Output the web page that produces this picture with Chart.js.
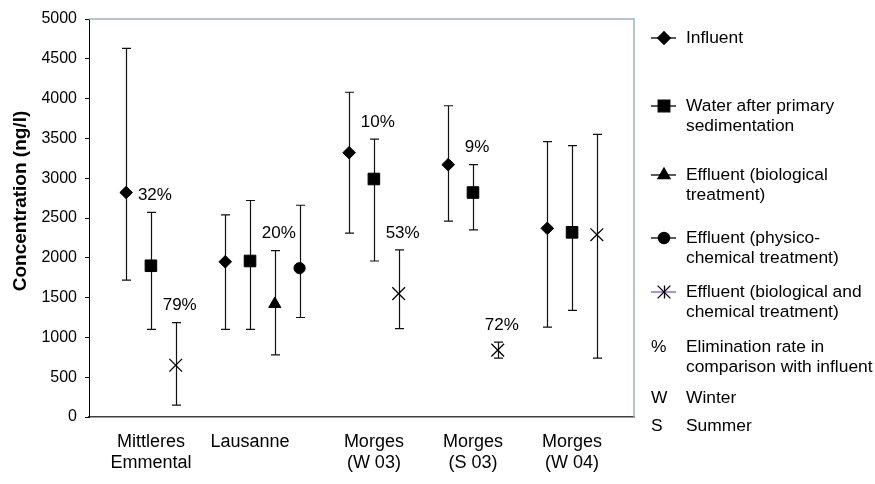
<!DOCTYPE html>
<html>
<head>
<meta charset="utf-8">
<title>Concentration</title>
<script src="https://cdn.jsdelivr.net/npm/chart.js@4.4.1/dist/chart.umd.min.js"></script>
<style>
  html, body { margin: 0; padding: 0; background: #fff; }
  #wrap { width: 875px; height: 484px; position: relative; }
</style>
</head>
<body>
<div id="wrap"><canvas id="concChart"></canvas></div>
<script>
var _ = null;
var FONT = "'Liberation Sans', Arial, sans-serif";

// x slots: the empty ones make the gaps between the plants
var categories = ['', '', ['Mittleres', 'Emmental'], '', '', '', 'Lausanne', '', '', '', '',
  ['Morges', '(W 03)'], '', '', '', ['Morges', '(S 03)'], '', '', '', ['Morges', '(W 04)'], '', ''];

// Influent
var influentMean = [_, 2820, _, _, _, 1950, _, _, _, _, 3320, _, _, _, 3170, _, _, _, 2370, _, _, _];
var influentLow  = [_, 1720, _, _, _, 1100, _, _, _, _, 2310, _, _, _, 2460, _, _, _, 1130, _, _, _];
var influentHigh = [_, 4630, _, _, _, 2540, _, _, _, _, 4080, _, _, _, 3910, _, _, _, 3460, _, _, _];

// Water after primary sedimentation
var waterMean = [_, _, 1900, _, _, _, 1960, _, _, _, _, 2990, _, _, _, 2820, _, _, _, 2320, _, _];
var waterLow  = [_, _, 1100, _, _, _, 1100, _, _, _, _, 1960, _, _, _, 2350, _, _, _, 1340, _, _];
var waterHigh = [_, _, 2570, _, _, _, 2720, _, _, _, _, 3490, _, _, _, 3170, _, _, _, 3410, _, _];
var waterRate = [_, _, '32%', _, _, _, _, _, _, _, _, '10%', _, _, _, '9%', _, _, _, _, _, _];

// Effluent (biological treatment)
var bioMean = [_, _, _, _, _, _, _, 1420, _, _, _, _, _, _, _, _, _, _, _, _, _, _];
var bioLow  = [_, _, _, _, _, _, _, 780, _, _, _, _, _, _, _, _, _, _, _, _, _, _];
var bioHigh = [_, _, _, _, _, _, _, 2090, _, _, _, _, _, _, _, _, _, _, _, _, _, _];
var bioRate = [_, _, _, _, _, _, _, '20%', _, _, _, _, _, _, _, _, _, _, _, _, _, _];

// Effluent (physico-chemical treatment)
var physMean = [_, _, _, _, _, _, _, _, 1870, _, _, _, _, _, _, _, _, _, _, _, _, _];
var physLow  = [_, _, _, _, _, _, _, _, 1250, _, _, _, _, _, _, _, _, _, _, _, _, _];
var physHigh = [_, _, _, _, _, _, _, _, 2660, _, _, _, _, _, _, _, _, _, _, _, _, _];

// Effluent (biological and chemical treatment)
var bioChemMean = [_, _, _, 650, _, _, _, _, _, _, _, _, 1550, _, _, _, 840, _, _, _, 2290, _];
var bioChemLow  = [_, _, _, 150, _, _, _, _, _, _, _, _, 1110, _, _, _, 740, _, _, _, 740, _];
var bioChemHigh = [_, _, _, 1185, _, _, _, _, _, _, _, _, 2100, _, _, _, 940, _, _, _, 3550, _];
var bioChemRate = [_, _, _, '79%', _, _, _, _, _, _, _, _, '53%', _, _, _, '72%', _, _, _, _, _];

var legendLabels = [
  ['Influent'],
  ['Water after primary', 'sedimentation'],
  ['Effluent (biological', 'treatment)'],
  ['Effluent (physico-', 'chemical treatment)'],
  ['Effluent (biological and', 'chemical treatment)']
];
var legendNotes = [
  ['%', 'Elimination rate in', 'comparison with influent'],
  ['W', 'Winter'],
  ['S', 'Summer']
];

function makeSeries(i, mean, low, high, rate, style, radius) {
  return {
    label: legendLabels[i].join(' '),
    data: mean,
    low: low,
    high: high,
    rate: rate,
    showLine: false,
    pointStyle: style,
    pointRadius: radius,
    pointBorderWidth: style === 'crossRot' ? 1.3 : 1,
    pointBackgroundColor: '#000',
    pointBorderColor: '#000'
  };
}

// vertical min-max bars with caps, drawn below the markers
var errorBars = {
  id: 'errorBars',
  beforeDatasetsDraw: function (chart) {
    var ctx = chart.ctx;
    var y = chart.scales.y;
    ctx.save();
    ctx.strokeStyle = '#111';
    ctx.lineWidth = 1.2;
    chart.data.datasets.forEach(function (ds, di) {
      var meta = chart.getDatasetMeta(di);
      ds.data.forEach(function (v, i) {
        if (v === null) return;
        var x = Math.round(meta.data[i].x) + 0.5;
        var top = y.getPixelForValue(ds.high[i]);
        var bot = y.getPixelForValue(ds.low[i]);
        ctx.beginPath();
        ctx.moveTo(x, top);
        ctx.lineTo(x, bot);
        ctx.moveTo(x - 4.5, top);
        ctx.lineTo(x + 4.5, top);
        ctx.moveTo(x - 4.5, bot);
        ctx.lineTo(x + 4.5, bot);
        ctx.stroke();
      });
    });
    ctx.restore();
  },
  afterDatasetsDraw: function (chart) {
    // elimination rates above the bars
    var ctx = chart.ctx;
    var y = chart.scales.y;
    ctx.save();
    ctx.fillStyle = '#000';
    ctx.font = '17px ' + FONT;
    ctx.textAlign = 'center';
    ctx.textBaseline = 'middle';
    chart.data.datasets.forEach(function (ds, di) {
      if (!ds.rate) return;
      var meta = chart.getDatasetMeta(di);
      ds.rate.forEach(function (r, i) {
        if (!r) return;
        ctx.fillText(r, meta.data[i].x + 4, y.getPixelForValue(ds.high[i]) - 17);
      });
    });
    ctx.restore();
  }
};

var frameAndLegend = {
  id: 'frameAndLegend',
  afterDraw: function (chart) {
    var ctx = chart.ctx;
    var a = chart.chartArea;
    ctx.save();

    // top and right edges of the plot area
    ctx.strokeStyle = '#9fb2b9';
    ctx.lineWidth = 1.5;
    ctx.beginPath();
    ctx.moveTo(a.left, a.top);
    ctx.lineTo(a.right, a.top);
    ctx.lineTo(a.right, a.bottom);
    ctx.stroke();

    // y axis title
    ctx.fillStyle = '#000';
    ctx.font = 'bold 19px ' + FONT;
    ctx.textAlign = 'center';
    ctx.textBaseline = 'middle';
    ctx.translate(21, 201);
    ctx.rotate(-Math.PI / 2);
    ctx.fillText('Concentration (ng/l)', 0, 0);
    ctx.setTransform(1, 0, 0, 1, 0, 0);

    // legend
    var rows = [38, 106, 175, 238, 292];
    var lineH = 20.5;
    ctx.font = '17.4px ' + FONT;
    ctx.textAlign = 'left';
    chart.data.datasets.forEach(function (ds, di) {
      var yy = rows[di];
      ctx.strokeStyle = di === 4 ? '#7b52e8' : '#000';
      ctx.lineWidth = 1.3;
      ctx.beginPath();
      ctx.moveTo(651, yy);
      ctx.lineTo(676, yy);
      ctx.stroke();
      ctx.strokeStyle = '#000';
      ctx.fillStyle = '#000';
      if (Chart.helpers && Chart.helpers.drawPoint) {
        Chart.helpers.drawPoint(ctx, {
          pointStyle: ds.pointStyle,
          radius: ds.pointRadius,
          borderWidth: ds.pointBorderWidth,
          rotation: 0
        }, 664, yy);
      }
      if (ds.pointStyle === 'crossRot') {
        ctx.beginPath();
        ctx.moveTo(664.5, yy - 6.5);
        ctx.lineTo(664.5, yy + 6.5);
        ctx.stroke();
      }
      legendLabels[di].forEach(function (t, k) {
        ctx.fillText(t, 686, yy + k * lineH);
      });
    });

    var noteRows = [347, 398, 426];
    legendNotes.forEach(function (n, k) {
      ctx.fillText(n[0], 651, noteRows[k]);
      for (var j = 1; j < n.length; j++) {
        ctx.fillText(n[j], 686, noteRows[k] + (j - 1) * lineH);
      }
    });
    ctx.restore();
  }
};

var concChart = new Chart(document.getElementById('concChart'), {
  type: 'line',
  data: {
    labels: categories,
    datasets: [
      makeSeries(0, influentMean, influentLow, influentHigh, null, 'rectRot', 6.3),
      makeSeries(1, waterMean, waterLow, waterHigh, waterRate, 'rect', 8.2),
      makeSeries(2, bioMean, bioLow, bioHigh, bioRate, 'triangle', 7),
      makeSeries(3, physMean, physLow, physHigh, null, 'circle', 5.6),
      makeSeries(4, bioChemMean, bioChemLow, bioChemHigh, bioChemRate, 'crossRot', 9)
    ]
  },
  options: {
    responsive: true,
    maintainAspectRatio: false,
    animation: false,
    events: [],
    layout: {
      padding: { top: 19, right: 241, left: 0, bottom: 0 }
    },
    plugins: {
      legend: { display: false },
      tooltip: { enabled: false }
    },
    scales: {
      x: {
        type: 'category',
        offset: true,
        grid: { display: false },
        border: { display: true, color: '#404040', width: 1.5 },
        ticks: {
          autoSkip: false,
          maxRotation: 0,
          color: '#000',
          padding: 7,
          font: { family: FONT, size: 18, lineHeight: 1.15 }
        },
        afterFit: function (scale) {
          scale.height = 67;
        }
      },
      y: {
        min: 0,
        max: 5000,
        ticks: {
          stepSize: 500,
          color: '#000',
          padding: 8,
          font: { family: FONT, size: 16 },
          callback: function (v) { return String(v); }
        },
        grid: {
          drawOnChartArea: false,
          tickLength: 4,
          color: '#000'
        },
        border: { display: true, color: '#000', width: 1 },
        afterFit: function (scale) {
          scale.width = 89;
        }
      }
    }
  },
  plugins: [errorBars, frameAndLegend]
});
</script>
</body>
</html>
